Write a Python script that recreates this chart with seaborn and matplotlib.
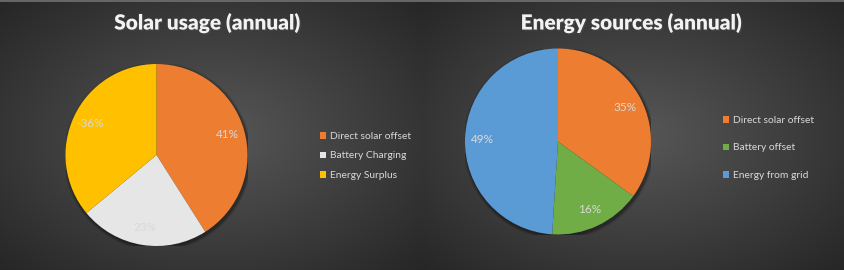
import numpy as np
import matplotlib
matplotlib.use("Agg")
import matplotlib.pyplot as plt
import matplotlib.patheffects as pe
from matplotlib.patches import Patch, Circle
import seaborn as sns

# ---- data ----
solar_title = "Solar usage (annual)"
solar_labels = ["Direct solar offset", "Battery Charging", "Energy Surplus"]
solar_values = [41, 23, -36]
solar_colors = ["#ED7D31", "#E7E6E6", "#FFC000"]

source_title = "Energy sources (annual)"
source_labels = ["Direct solar offset", "Battery offset", "Energy from grid"]
source_values = [35, 16, 49]
source_colors = ["#ED7D31", "#70AD47", "#5B9BD5"]

sns.set_theme(style="dark")
plt.rcParams["font.family"] = ["Lato", "DejaVu Sans"]

W, H = 844, 270
fig = plt.figure(figsize=(W / 100, H / 100), dpi=100)

# background: two panels, each with a radial gradient
bg = fig.add_axes([0, 0, 1, 1])
bg.set_axis_off()
yy, xx = np.mgrid[0:H, 0:W].astype(float)
img = np.zeros((H, W))
for x0, x1 in [(0, 422), (422, 844)]:
    cx, cy = (x0 + x1) / 2, H / 2
    hw, hh = (x1 - x0) / 2, H / 2
    d = np.sqrt(((xx - cx) / hw) ** 2 + ((yy - cy) / hh) ** 2) / np.sqrt(2)
    mask = (xx >= x0) & (xx < x1)
    img[mask] = d[mask]
c_in = np.array([0x58, 0x58, 0x58]) / 255
c_out = np.array([0x26, 0x26, 0x26]) / 255
t = np.clip(img, 0, 1)[..., None]
rgb = c_in * (1 - t) + c_out * t
rgb[0:2, :, :] = np.maximum(rgb[0:2, :, :], 0.40)
bg.imshow(rgb, extent=[0, W, H, 0], aspect="auto", interpolation="bilinear")
bg.set_xlim(0, W)
bg.set_ylim(H, 0)


def draw_pie(cx, cy, r, values, colors, labels, title, title_x, legend_x, legend_y, spacing):
    ax = fig.add_axes([(cx - r) / W, (H - cy - r) / H, 2 * r / W, 2 * r / H])
    ax.set_axis_off()
    # soft drop shadow behind the pie
    for k, a in [(0.035, 0.10), (0.022, 0.14), (0.012, 0.18)]:
        ax.add_patch(Circle((0.012, -0.018), 1.0 + k, facecolor="black",
                            alpha=a, edgecolor="none", zorder=0))
    sizes = [abs(v) for v in values]
    total = sum(sizes)
    ax.pie(sizes, colors=colors, startangle=90, counterclock=False,
           radius=1.0, wedgeprops=dict(linewidth=0, zorder=2))
    # percentage labels
    start = 90.0
    for v, s in zip(values, sizes):
        frac = s / total
        mid = np.deg2rad(start - frac * 360 / 2)
        start -= frac * 360
        pct = round(100 * v / total)
        ax.text(0.81 * np.cos(mid), 0.81 * np.sin(mid), f"{pct}%",
                ha="center", va="center", fontsize=8.5, color="#D9D9D9", zorder=3)
    ax.set_xlim(-1, 1)
    ax.set_ylim(-1, 1)
    fig.text(title_x / W, 1 - 23 / H, title, ha="center", va="center",
             fontsize=15, fontweight="heavy", color="#F2F2F2",
             path_effects=[pe.withSimplePatchShadow(offset=(1, -1), alpha=0.6)])
    handles = [Patch(facecolor=c, edgecolor="none") for c in colors]
    fig.legend(handles, labels, loc="upper left",
               bbox_to_anchor=(legend_x / W, 1 - legend_y / H),
               frameon=False, fontsize=7.4, labelcolor="#D9D9D9",
               handlelength=0.62, handleheight=0.62, handletextpad=0.35,
               labelspacing=spacing, borderpad=0, borderaxespad=0)


draw_pie(156.5, 155, 91, solar_values, solar_colors, solar_labels, solar_title,
         208, 320, 132, 1.02)
draw_pie(558, 141.5, 93, source_values, source_colors, source_labels, source_title,
         632, 723, 116, 1.8)

fig.savefig("out.png", dpi=100)
